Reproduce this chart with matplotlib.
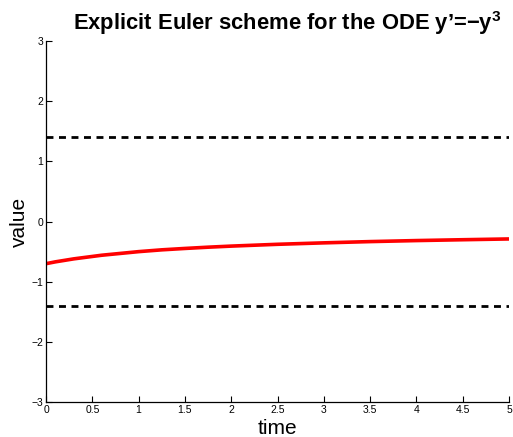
import matplotlib
matplotlib.use("Agg")
import matplotlib.pyplot as plt

# Data
time = [0, 0.1, 0.2, 0.3, 0.4, 0.5, 0.6, 0.8, 1, 1.25, 1.5, 1.75, 2, 2.5, 3, 3.5, 4, 4.5, 5]
value = [-0.70, -0.67, -0.645, -0.62, -0.60, -0.58, -0.56, -0.53, -0.50, -0.47, -0.447,
         -0.426, -0.408, -0.378, -0.354, -0.333, -0.316, -0.302, -0.289]
bound = 1.41
seg1 = [0, 2]
seg2 = [2, 5]
xticks = [0, 0.5, 1, 1.5, 2, 2.5, 3, 3.5, 4, 4.5, 5]
xticklabels = ["0", "0.5", "1", "1.5", "2", "2.5", "3", "3.5", "4", "4.5", "5"]
yticks = [-3, -2, -1, 0, 1, 2, 3]
yticklabels = ["\u22123", "\u22122", "\u22121", "0", "1", "2", "3"]

plt.rcParams['font.family'] = ['Liberation Sans', 'DejaVu Sans']
plt.rcParams['lines.scale_dashes'] = False
plt.rcParams['mathtext.fontset'] = 'custom'
plt.rcParams['mathtext.rm'] = 'Liberation Sans:bold'
plt.rcParams['mathtext.it'] = 'Liberation Sans:bold'
plt.rcParams['mathtext.bf'] = 'Liberation Sans:bold'

fig = plt.figure(figsize=(5.13, 4.37), dpi=100)
ax = fig.add_axes([0.0897, 0.080, 0.9025, 0.826])

for seg in (seg1, seg2):
    for s in (bound, -bound):
        ax.plot(seg, [s, s], color='black', linewidth=2.0, dashes=(5, 4))
ax.plot(time, value, color='red', linewidth=2.6, solid_capstyle='butt')

ax.set_xlim(0, 5)
ax.set_ylim(-3, 3)
ax.set_xticks(xticks)
ax.set_xticklabels(xticklabels)
ax.set_yticks(yticks)
ax.set_yticklabels(yticklabels)
ax.tick_params(direction='in', length=4, width=0.8, labelsize=7.5, pad=2)
for sp in ('top', 'right'):
    ax.spines[sp].set_visible(False)
for sp in ('left', 'bottom'):
    ax.spines[sp].set_linewidth(0.9)

ax.set_xlabel('time', fontsize=15, labelpad=3)
ax.set_ylabel('value', fontsize=15, labelpad=2)
t = ax.set_title("Explicit Euler scheme for the ODE y\u2019=\u2212y$^{3}$", fontsize=15.8,
                 fontweight='bold', pad=8)
t.set_x(0.52)

fig.savefig('out.png', dpi=100)
